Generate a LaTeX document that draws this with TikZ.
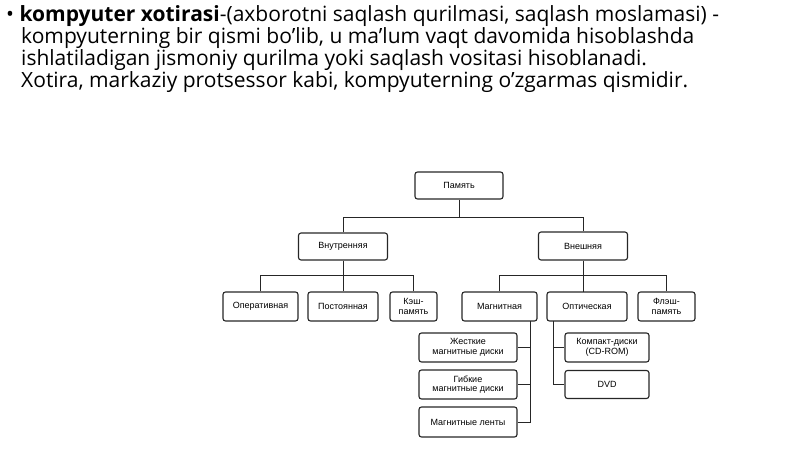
\documentclass[tikz,border=0pt]{standalone}
\usepackage{fontspec}
\setmainfont{Open Sans}
\newfontfamily\boxfont{Liberation Sans}
\begin{document}
\begin{tikzpicture}[x=1pt,y=-1pt,
  bx/.style={draw=black!85,line width=1.1pt,rounded corners=2.5pt,inner sep=0pt,align=center,font=\boxfont\fontsize{9}{9.6}\selectfont},
  ln/.style={draw=black!85,line width=0.9pt}]
\useasboundingbox (0,0) rectangle (800,449);
\node[anchor=north west,inner sep=0pt,align=left,font=\fontsize{21}{22}\selectfont] (txt) at (6,5)
 {\textbullet\ \textbf{kompyuter xotirasi}-(axborotni saqlash qurilmasi, saqlash moslamasi) -\\
 \hspace*{15pt}kompyuterning bir qismi bo’lib, u ma'lum vaqt davomida hisoblashda\\
 \hspace*{15pt}ishlatiladigan jismoniy qurilma yoki saqlash vositasi hisoblanadi.\\
 \hspace*{15pt}Xotira, markaziy protsessor kabi, kompyuterning o'zgarmas qismidir.};
% boxes
\node[bx,minimum width=88,minimum height=27] (pam) at (459,185.5) {Память};
\node[bx,minimum width=89,minimum height=27] (vn) at (343,246.5) {Внутренняя};
\node[bx,minimum width=89,minimum height=28] (ve) at (583,246) {Внешняя};
\node[bx,minimum width=75,minimum height=29] (op) at (260.5,306.5) {Оперативная};
\node[bx,minimum width=70,minimum height=29] (po) at (343,306.5) {Постоянная};
\node[bx,minimum width=47,minimum height=29] (ke) at (413.5,306.5) {Кэш-\\память};
\node[bx,minimum width=75,minimum height=29] (ma) at (499.5,306.5) {Магнитная};
\node[bx,minimum width=80,minimum height=29] (ot) at (587,306.5) {Оптическая};
\node[bx,minimum width=57,minimum height=29] (fl) at (666.5,306.5) {Флэш-\\память};
\node[bx,minimum width=98,minimum height=29] (zh) at (468,347.5) {Жесткие\\магнитные диски};
\node[bx,minimum width=98,minimum height=29] (gi) at (468,384.5) {Гибкие\\магнитные диски};
\node[bx,minimum width=98,minimum height=30] (le) at (468,422) {Магнитные ленты};
\node[bx,minimum width=84,minimum height=29] (cd) at (607,347.5) {Компакт-диски\\(CD-ROM)};
\node[bx,minimum width=84,minimum height=28] (dvd) at (607,384.5) {DVD};
% connectors
\coordinate (b1) at (459,217);
\draw[ln] (pam.south) -- (b1);
\draw[ln] (vn.north) -- (343,217) -- (583,217) -- (ve.north);
\draw[ln] (vn.south) -- (343,275);
\draw[ln] (op.north) -- (260.5,275) -- (413.5,275) -- (ke.north);
\draw[ln] (343,275) -- (po.north);
\draw[ln] (ve.south) -- (583,275);
\draw[ln] (ma.north) -- (499.5,275) -- (666.5,275) -- (fl.north);
\draw[ln] (583,275) -- (583,292) ;
\coordinate (mv) at (530,321);
\draw[ln] (mv) -- (530,422) -- (le.east);
\draw[ln] (530,347.5) -- (zh.east);
\draw[ln] (530,384.5) -- (gi.east);
\coordinate (ov) at (553,321);
\draw[ln] (ov) -- (553,384.5) -- (dvd.west);
\draw[ln] (553,347.5) -- (cd.west);
\end{tikzpicture}
\end{document}
